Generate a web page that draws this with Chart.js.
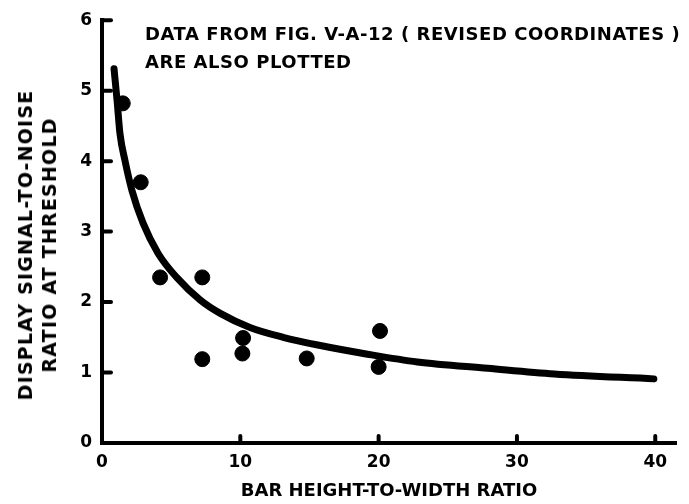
<!DOCTYPE html>
<html>
<head>
<meta charset="utf-8">
<script src="https://cdn.jsdelivr.net/npm/chart.js@4/dist/chart.umd.min.js"></script>
<style>
    html, body { margin: 0; padding: 0; background: #fff; }
    #wrap { position: relative; width: 689px; height: 504px; }
    .lbl {
        position: absolute; color: #000; white-space: pre;
        font-family: "DejaVu Sans", sans-serif; font-weight: bold;
    }
    #note { left: 145px; top: 20px; font-size: 18px; line-height: 28px; letter-spacing: 0.55px; }
    #ytitle {
        left: 37px; top: 245px; font-size: 19px; line-height: 24px; letter-spacing: 1.2px;
        text-align: center; transform: translate(-50%, -50%) rotate(-90deg);
    }
</style>
</head>
<body>
<div id="wrap">
    <canvas id="chart" width="689" height="504"></canvas>
    <div id="note" class="lbl">DATA FROM FIG. V-A-12 ( REVISED COORDINATES )
ARE ALSO PLOTTED</div>
    <div id="ytitle" class="lbl">DISPLAY SIGNAL-TO-NOISE
RATIO AT THRESHOLD</div>
</div>
<script>
// measured points (bar height-to-width ratio vs. threshold S/N)
const ratioX = [1.5, 2.8, 4.2, 7.25, 7.25, 10.2, 10.15, 14.8, 20.1, 20.0];
const snrY = [4.82, 3.70, 2.35, 2.35, 1.19, 1.49, 1.27, 1.20, 1.59, 1.08];

// fitted curve
const curveX = [0.87, 1.09, 1.3, 1.67, 2.17, 2.97, 4.06, 5.4, 7.1, 8.55, 10.7, 13.1, 15.6, 19.2, 22.8, 27.9, 32.7, 39.9];
const curveY = [5.31, 4.86, 4.39, 4.0, 3.58, 3.12, 2.69, 2.35, 2.03, 1.84, 1.64, 1.50, 1.39, 1.26, 1.15, 1.06, 0.98, 0.91];

const xTicks = [0, 10, 20, 30, 40];
const yTicks = [0, 1, 2, 3, 4, 5, 6];

const tickFont = { family: 'DejaVu Sans', weight: 'bold', size: 17 };

// short tick marks drawn on the inside of the axes
const innerTicks = {
    id: 'innerTicks',
    afterDatasetsDraw(chart) {
        const ctx = chart.ctx;
        const area = chart.chartArea;
        const xs = chart.scales.x, ys = chart.scales.y;
        ctx.save();
        ctx.strokeStyle = '#000';
        ctx.lineWidth = 4;
        ctx.lineCap = 'round';
        yTicks.forEach(v => {
            const py = ys.getPixelForValue(v);
            ctx.beginPath();
            ctx.moveTo(area.left, py);
            ctx.lineTo(area.left + 9, py);
            ctx.stroke();
        });
        xTicks.slice(1).forEach(v => {
            const px = xs.getPixelForValue(v);
            ctx.beginPath();
            ctx.moveTo(px, area.bottom);
            ctx.lineTo(px, area.bottom - 7);
            ctx.stroke();
        });
        ctx.restore();
    }
};

const curveData = curveX.map((x, i) => ({ x: x, y: curveY[i] }));
const pointData = ratioX.map((x, i) => ({ x: x, y: snrY[i] }));

new Chart(document.getElementById('chart'), {
    type: 'scatter',
    data: {
        datasets: [
            {
                data: curveData,
                showLine: true,
                borderColor: '#000',
                borderWidth: 7,
                borderCapStyle: 'round',
                cubicInterpolationMode: 'monotone',
                pointRadius: 0
            },
            {
                data: pointData,
                backgroundColor: '#000',
                borderColor: '#000',
                pointRadius: 7.5
            }
        ]
    },
    options: {
        responsive: false,
        animation: false,
        layout: { padding: { left: 0, right: 13, top: 19, bottom: 0 } },
        plugins: { legend: { display: false }, tooltip: { enabled: false } },
        scales: {
            x: {
                type: 'linear',
                min: 0,
                max: 41.5,
                afterBuildTicks: s => { s.ticks = xTicks.map(v => ({ value: v })); },
                afterFit: s => { s.height = 61; },
                grid: { display: false, drawTicks: false },
                border: { display: true, color: '#000', width: 4 },
                ticks: { color: '#000', font: tickFont, padding: 9, maxRotation: 0 },
                title: {
                    display: true,
                    text: 'BAR HEIGHT-TO-WIDTH RATIO',
                    color: '#000',
                    font: { family: 'DejaVu Sans', weight: 'bold', size: 18 },
                    padding: { top: 0, bottom: 2 }
                }
            },
            y: {
                type: 'linear',
                min: 0,
                max: 6,
                afterBuildTicks: s => { s.ticks = yTicks.map(v => ({ value: v })); },
                afterFit: s => { s.width = 102; },
                grid: { display: false, drawTicks: false },
                border: { display: true, color: '#000', width: 4 },
                ticks: { color: '#000', font: tickFont, padding: 10 }
            }
        }
    },
    plugins: [innerTicks]
});
</script>
</body>
</html>
